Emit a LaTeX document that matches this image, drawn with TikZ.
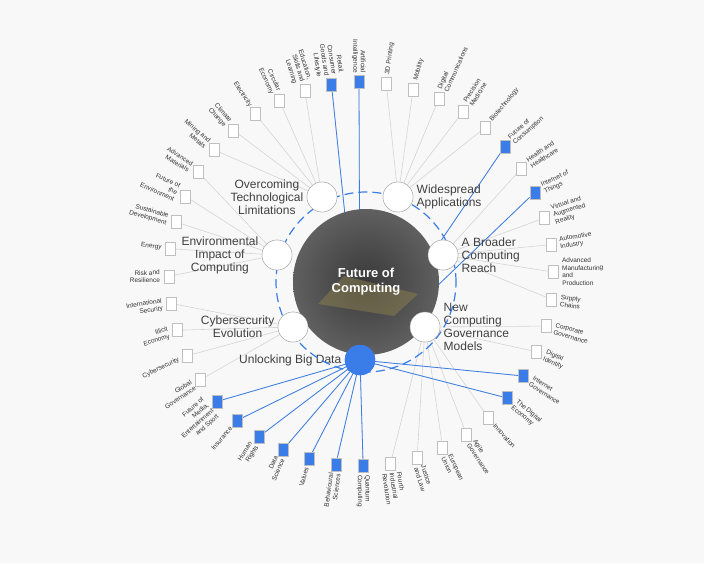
\documentclass[tikz,border=0pt]{standalone}
\usepackage{fontspec}
\setmainfont{Liberation Sans}
\usetikzlibrary{calc,backgrounds}
\definecolor{hubblue}{HTML}{3B7DE8}
\definecolor{bggray}{HTML}{F8F8F8}
\definecolor{linkgray}{HTML}{D4D4D4}
\tikzset{
  doc/.style={draw=gray!50, rectangle, minimum width=10pt, minimum height=13pt, inner sep=0pt},
  topic/.style={circle, draw=gray!70, fill=white, minimum size=30pt, inner sep=0pt},
  toplabel/.style={font=\fontsize{12}{13}\selectfont, text=black!75},
  outlabel/.style={font=\fontsize{6.5}{7.5}\selectfont, text=black!80, inner sep=0pt}
}
\begin{document}
\begin{tikzpicture}[x=1pt,y=1pt]
  \useasboundingbox (0,0) rectangle (704,563);
  \begin{pgfonlayer}{background}
    \fill[bggray] (0,0) rectangle (704,563);
  \end{pgfonlayer}
  \coordinate (ring) at (361,289);
  % inner topics
  \node[topic] (over) at (322,366) {};
  \node[topic] (wide) at (398,366) {};
  \node[topic] (broad) at (443,308) {};
  \node[topic] (govern) at (425,236) {};
  \node[topic, fill=hubblue, draw=hubblue] (bigdata) at (360,203) {};
  \node[topic] (cyber) at (293,236) {};
  \node[topic] (envir) at (277,308) {};
  \node[toplabel, anchor=east, align=center] at (over.west) {Overcoming\\Technological\\Limitations};
  \node[toplabel, anchor=west, align=left] at (wide.east) {Widespread\\Applications};
  \node[toplabel, anchor=west, align=left] at (broad.east) {A Broader\\Computing\\Reach};
  \node[toplabel, anchor=west, align=left] at (govern.east) {New\\Computing\\Governance\\Models};
  \node[toplabel, anchor=east] at (bigdata.west) {Unlocking Big Data};
  \node[toplabel, anchor=east, align=center] at (cyber.west) {Cybersecurity\\Evolution};
  \node[toplabel, anchor=east, align=center] at (envir.west) {Environmental\\Impact of\\Computing};
  % outer ring of issues
  \foreach \lab/\col/\src [count=\i from 0] in {
      {Artificial\\Intelligence}/hubblue/bigdata, {3D Printing}/white/wide, {Mobility}/white/wide,
      {Digital\\Communications}/white/wide, {Precision\\Medicine}/white/wide, {Biotechnology}/white/wide,
      {Future of\\Consumption}/hubblue/bigdata, {Health and\\Healthcare}/white/broad, {Internet of\\Things}/hubblue/bigdata,
      {Virtual and\\Augmented\\Reality}/white/broad, {Automotive\\Industry}/white/broad,
      {Advanced\\Manufacturing\\and\\Production}/white/broad, {Supply\\Chains}/white/broad,
      {Corporate\\Governance}/white/govern, {Digital\\Identity}/white/govern, {Internet\\Governance}/hubblue/bigdata,
      {The Digital\\Economy}/hubblue/bigdata, {Innovation}/white/govern, {Agile\\Governance}/white/govern,
      {European\\Union}/white/govern, {Justice\\and Law}/white/govern, {Fourth\\Industrial\\Revolution}/white/govern,
      {Quantum\\Computing}/hubblue/bigdata, {Behavioural\\Sciences}/hubblue/bigdata, {Values}/hubblue/bigdata,
      {Data\\Science}/hubblue/bigdata, {Human\\Rights}/hubblue/bigdata, {Insurance}/hubblue/bigdata,
      {Future of\\Media,\\Entertainment\\and Sport}/hubblue/bigdata, {Global\\Governance}/white/cyber,
      {Cybersecurity}/white/cyber, {Illicit\\Economy}/white/cyber, {International\\Security}/white/cyber,
      {Risk and\\Resilience}/white/envir, {Energy}/white/envir, {Sustainable\\Development}/white/envir,
      {Future of\\the\\Environment}/white/envir, {Advanced\\Materials}/white/envir, {Mining and\\Metals}/white/over,
      {Climate\\Change}/white/over, {Electricity}/white/over, {Circular\\Economy}/white/over,
      {Education,\\Skills and\\Learning}/white/over, {Retail,\\Consumer\\Goods and\\Lifestyle}/hubblue/bigdata} {
    \pgfmathsetmacro\ang{90.6-8.18*\i}
    \pgfmathtruncatemacro\side{cos(\ang)>=-0.001}
    \node[doc, fill=\col] (o\i) at ($(ring)+(\ang:192)$) {};
    \begin{pgfonlayer}{background}
      \draw[line width=0.6pt, color=linkgray] (\src) -- (o\i);
    \end{pgfonlayer}
    \ifnum\side=1
      \node[outlabel, anchor=west, align=left, rotate=\ang] at ($(ring)+(\ang:201)$) {\lab};
    \else
      \node[outlabel, anchor=east, align=right, rotate=\ang+180] at ($(ring)+(\ang:201)$) {\lab};
    \fi
  }
  % blue links from the big data hub
  \begin{pgfonlayer}{background}
    \foreach \j in {0,6,8,15,16,22,23,24,25,26,27,28,43}
      \draw[hubblue, line width=0.8pt] (bigdata) -- (o\j);
  \end{pgfonlayer}
  % centre
  \draw[hubblue, line width=1.2pt, dash pattern=on 9pt off 5pt] (366,281) circle (90);
  \shade[inner color=gray!45!black, outer color=gray!75!black] (366,281) circle (73);
  \coordinate (core) at (366,281);
  \fill[yellow!50!brown!60!black, opacity=0.45] ($(core)+(-48,-22)$) -- ($(core)+(28,-34)$) -- ($(core)+(52,-12)$) -- ($(core)+(-22,6)$) -- cycle;
  \node[font=\bfseries\fontsize{13}{15}\selectfont, text=white, align=center] at (core) {Future of\\Computing};
  \foreach \t in {over,wide,broad,govern,cyber,envir}
    \node[topic] at (\t) {};
  \node[topic, fill=hubblue, draw=hubblue] at (bigdata) {};
\end{tikzpicture}
\end{document}
